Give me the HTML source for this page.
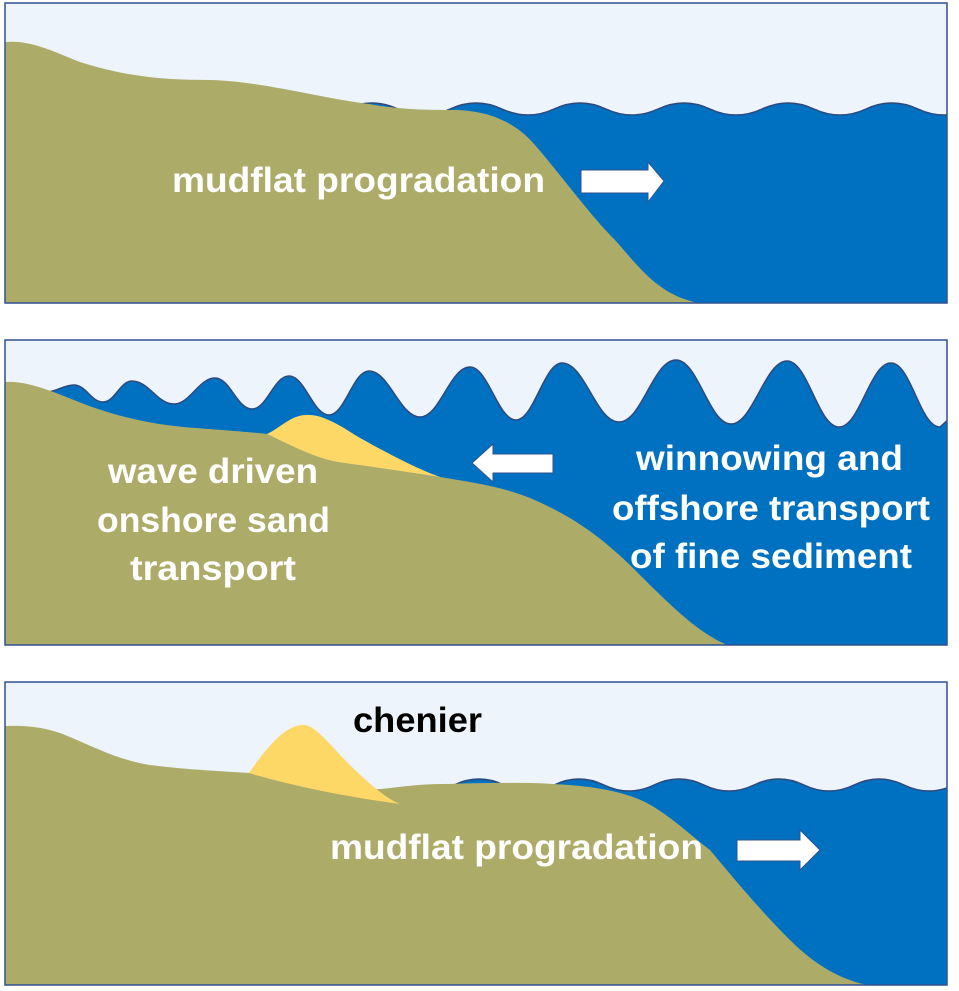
<!DOCTYPE html>
<html><head><meta charset="utf-8"><style>
html,body{margin:0;padding:0;background:#fff}
svg{display:block}
text{font-family:"Liberation Sans",sans-serif;font-weight:bold}
</style></head><body>
<svg width="959" height="991" viewBox="0 0 959 991" xmlns="http://www.w3.org/2000/svg">
<defs>
<clipPath id="c1"><rect x="5" y="3" width="942" height="300"/></clipPath>
<clipPath id="c2"><rect x="5" y="340" width="942" height="305"/></clipPath>
<clipPath id="c3"><rect x="5" y="682" width="942" height="303"/></clipPath>
</defs>

<!-- Panel 1 -->
<g clip-path="url(#c1)">
<rect x="5" y="3" width="942" height="300" fill="#eef4fb"/>
<path d="M346,109 Q372,97 398,109 T450,109 T502,109 T554,109 T606,109 T658,109 T710,109 T762,109 T814,109 T866,109 T918,109 T970,109 L970,310 L346,310 Z" fill="#0070c0" stroke="#2e4a7d" stroke-width="1.5"/>
<path d="M5,303 L5,42 C30,40 50,50 80,62 C130,78 170,80 210,80 C260,81 320,98 369,104 C400,110 430,110 455,110 C490,111 515,122 535,145 C565,180 590,215 615,240 C640,268 660,298 705,304 L5,304 Z" fill="#adab68"/>
</g>
<rect x="5" y="3" width="942" height="300" fill="none" stroke="#2f528f" stroke-width="1.5"/>
<text x="172" y="192" font-size="35" fill="#fff" textLength="373" lengthAdjust="spacingAndGlyphs">mudflat progradation</text>
<path d="M581,170 L648,170 L648,162 L664,181 L648,202 L648,193 L581,193 Z" fill="#fff" stroke="#2f528f" stroke-width="1"/>

<!-- Panel 2 -->
<g clip-path="url(#c2)">
<rect x="5" y="340" width="942" height="305" fill="#eef4fb"/>
<path d="M46,392 C57,392 63,385 74,385 C86,385 91,402 103,402 C115,402 120,381 132,381 C149,381 157,404 174,404 C190,404 199,378 215,378 C230,378 237,409 252,409 C267,409 274,376 289,376 C305,376 313,415 329,415 C345,415 353,371 369,371 C389,371 400,417 420,417 C440,417 450,367 470,367 C488,367 498,420 516,420 C534,420 544,363 562,363 C585,363 596,422 619,422 C642,422 653,360 676,360 C698,360 709,424 731,424 C753,424 765,361 787,361 C808,361 818,427 839,427 C860,427 870,363 891,363 C911,363 920,427 940,427 L950,418 L950,650 L46,650 Z" fill="#0070c0" stroke="#2e4a7d" stroke-width="1.5"/>
<path d="M5,646 L5,382 C30,380 60,395 92,407 C130,420 160,425 184,427 C220,430 250,432 267,434 C300,450 320,460 344,463 C380,468 420,474 440,477 C470,482 500,486 530,498 C570,515 600,535 635,570 C670,605 700,635 730,646 Z" fill="#adab68"/>
<path d="M267,434 C280,428 290,416 305,415 C320,414 335,422 355,435 C390,455 420,470 440,477 C420,474 380,468 344,463 C320,460 300,450 267,434 Z" fill="#fdd866"/>
</g>
<rect x="5" y="340" width="942" height="305" fill="none" stroke="#2f528f" stroke-width="1.5"/>
<text x="108" y="483" font-size="35" fill="#fff" textLength="210" lengthAdjust="spacingAndGlyphs">wave driven</text>
<text x="97" y="532" font-size="35" fill="#fff" textLength="233" lengthAdjust="spacingAndGlyphs">onshore sand</text>
<text x="130" y="580" font-size="35" fill="#fff" textLength="166" lengthAdjust="spacingAndGlyphs">transport</text>
<text x="636" y="470" font-size="35" fill="#fff" textLength="267" lengthAdjust="spacingAndGlyphs">winnowing and</text>
<text x="612" y="520" font-size="35" fill="#fff" textLength="318" lengthAdjust="spacingAndGlyphs">offshore transport</text>
<text x="630" y="568" font-size="35" fill="#fff" textLength="282" lengthAdjust="spacingAndGlyphs">of fine sediment</text>
<path d="M553,454 L493,454 L493,444 L472,463 L493,482 L493,473 L553,473 Z" fill="#fff" stroke="#2f528f" stroke-width="1"/>

<!-- Panel 3 -->
<g clip-path="url(#c3)">
<rect x="5" y="682" width="942" height="303" fill="#eef4fb"/>
<path d="M454,785 Q479,773 504,785 T554,785 T604,785 T654,785 T704,785 T754,785 T804,785 T854,785 T904,785 T954,785 L954,990 L454,990 Z" fill="#0070c0" stroke="#2e4a7d" stroke-width="1.5"/>
<path d="M5,986 L5,726 C30,725 50,728 70,737 C100,750 120,760 150,765 C190,770 220,771 249,773 C300,780 350,790 381,789 C400,787 420,784 443,784 C480,783 530,782 553,784 C590,786 620,790 645,802 C670,815 690,835 710,850 C735,880 760,910 790,940 C820,970 850,984 880,987 L5,987 Z" fill="#adab68"/>
<path d="M249,773 C265,750 285,724 304,725 C315,725 330,745 350,765 C365,780 385,798 400,804 C350,797 300,788 249,773 Z" fill="#fdd866"/>
</g>
<rect x="5" y="682" width="942" height="303" fill="none" stroke="#2f528f" stroke-width="1.5"/>
<text x="353" y="732" font-size="35" fill="#000" textLength="129" lengthAdjust="spacingAndGlyphs">chenier</text>
<text x="330" y="859" font-size="35" fill="#fff" textLength="373" lengthAdjust="spacingAndGlyphs">mudflat progradation</text>
<path d="M737,840 L800,840 L800,830 L820,850 L800,870 L800,861 L737,861 Z" fill="#fff" stroke="#2f528f" stroke-width="1"/>
</svg>
</body></html>
